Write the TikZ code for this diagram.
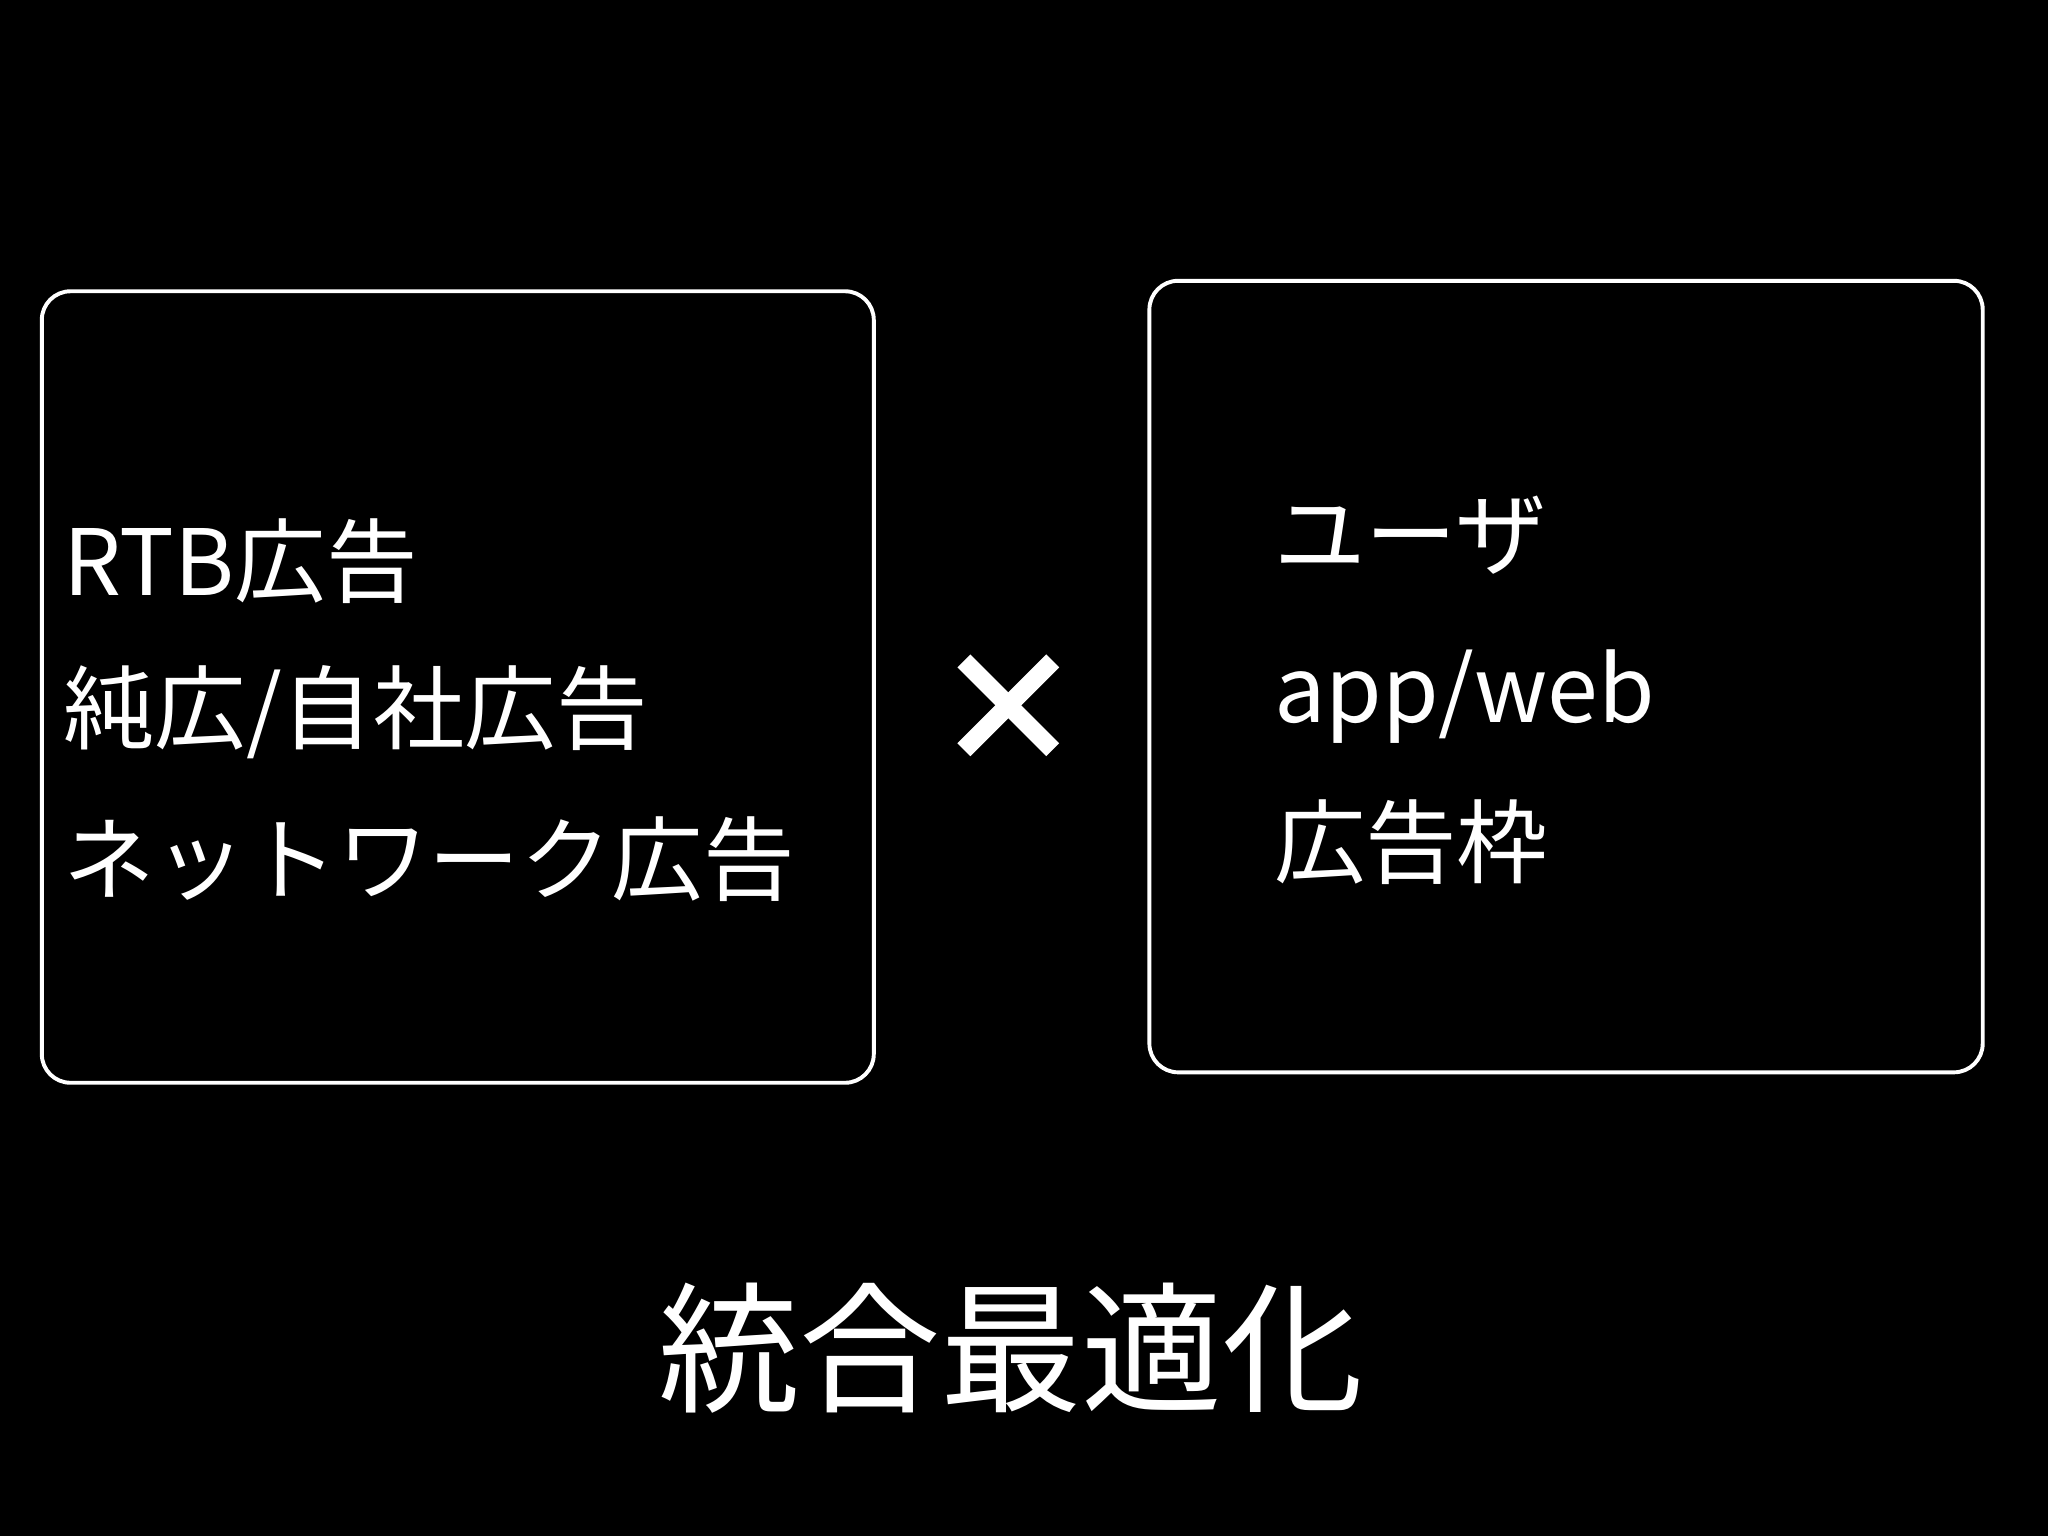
\documentclass[tikz,border=0pt]{standalone}
\usepackage{fontspec}
\setmainfont{Noto Sans CJK JP}
\begin{document}
\begin{tikzpicture}[x=0.5pt,y=-0.5pt,
  box/.style={draw=white,line width=1.5pt,rounded corners=11pt},
  txt/.style={text=white,anchor=west,inner sep=0pt,font=\fontsize{35pt}{42pt}\selectfont},
  bigtxt/.style={text=white,inner sep=0pt,font=\fontsize{54pt}{60pt}\selectfont}]
\fill[black] (0,0) rectangle (1568,1176);
\useasboundingbox (0,0) rectangle (1568,1176);
\draw[box] (32,223) rectangle (669,829);
\draw[box] (880,215) rectangle (1518,821);
\node[txt] (l1) at (48,430) {RTB広告};
\node[txt] (l2) at (48,545) {純広/自社広告};
\node[txt] (l3) at (48,658) {ネットワーク広告};
\node[txt] (r1) at (975,410) {ユーザ};
\node[txt] (r2) at (975,533) {app/web};
\node[txt] (r3) at (975,645) {広告枠};
\coordinate (xa) at (738,506);
\coordinate (xb) at (806,574);
\coordinate (xc) at (738,574);
\coordinate (xd) at (806,506);
\draw[white,line width=7pt] (xa) -- (xb);
\draw[white,line width=7pt] (xc) -- (xd);
\node[bigtxt] (bt) at (774,1032) {統合最適化};
\end{tikzpicture}
\end{document}
